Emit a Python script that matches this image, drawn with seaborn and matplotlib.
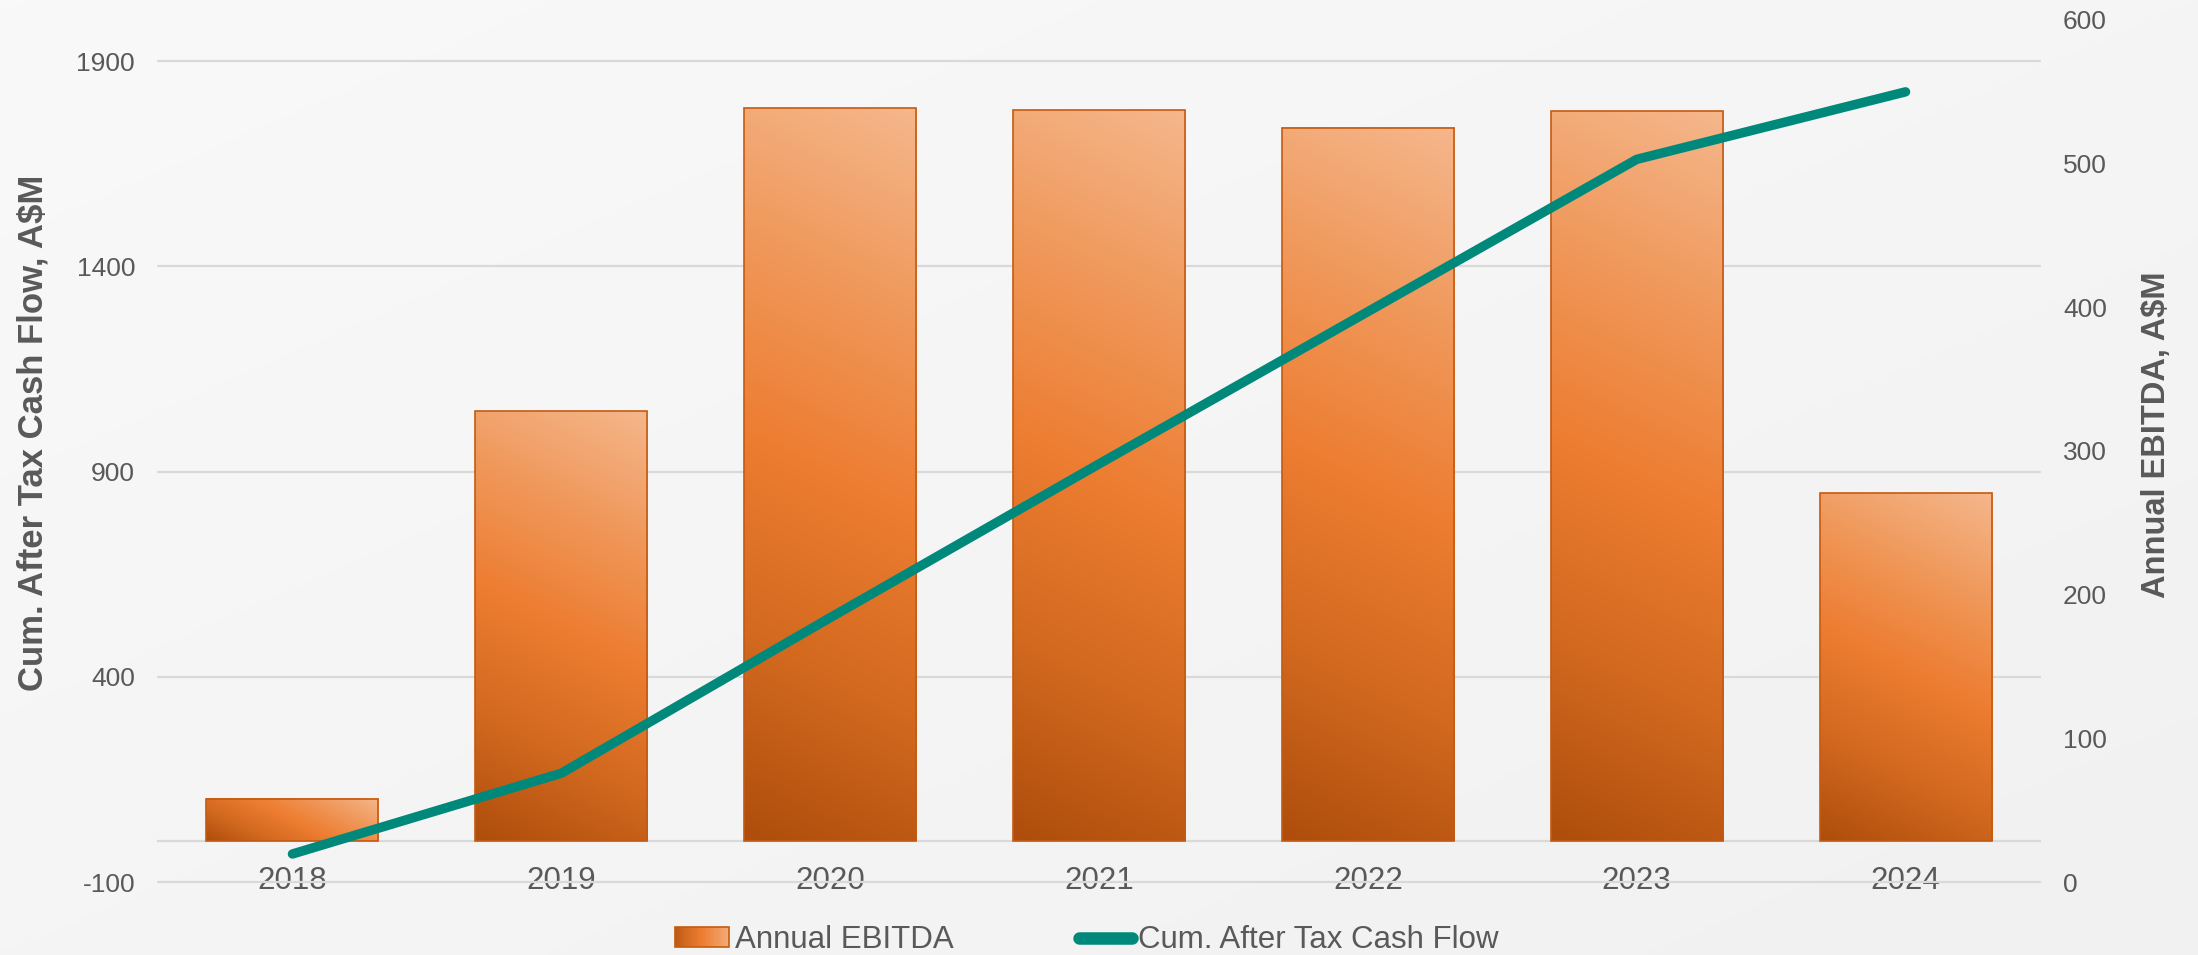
import numpy as np
import matplotlib
matplotlib.use("Agg")
import matplotlib.pyplot as plt
import seaborn as sns
from matplotlib.colors import LinearSegmentedColormap
from matplotlib.patches import Rectangle, Patch
from matplotlib.lines import Line2D
from matplotlib.legend_handler import HandlerBase

# ---------------- data ----------------
years = ["2018", "2019", "2020", "2021", "2022", "2023", "2024"]
annual_ebitda = [103, 1047, 1785, 1780, 1738, 1778, 847]          # bars (left scale)
cum_cash_flow = [19.5, 75.7, 184, 291, 397, 503, 550]             # line (right scale)
left_ticks = [-100, 400, 900, 1400, 1900]
right_ticks = [0, 100, 200, 300, 400, 500, 600]
left_title = "Cum. After Tax Cash Flow, A$M"
right_title = "Annual EBITDA, A$M"
bar_label = "Annual EBITDA"
line_label = "Cum. After Tax Cash Flow"

# ---------------- style ----------------
sns.set_style("white")
plt.rcParams["font.family"] = ["Liberation Sans", "DejaVu Sans"]
plt.rcParams["axes.unicode_minus"] = False
TXT = "#595959"
GRID = "#D9D9D9"
TEAL = "#00897B"
EDGE = "#C55A11"
cmap = LinearSegmentedColormap.from_list("bar", ["#AE4D0C", "#D2691F", "#ED7D31", "#F0995C", "#F5B78C"])

W, H, DPI = 2198, 955, 100
fig = plt.figure(figsize=(W / DPI, H / DPI), dpi=DPI)

# background gradient
bg = fig.add_axes([0, 0, 1, 1], zorder=-10)
gy, gx = np.mgrid[0:1:200j, 0:1:400j]
bg.imshow((gx + gy) / 2, cmap=LinearSegmentedColormap.from_list("bg", ["#F9F9F9", "#F1F1F1"]),
          extent=[0, 1, 0, 1], aspect="auto", origin="upper")
bg.axis("off")

ax_l, ax_r, ax_b, ax_t = 158 / W, 2040 / W, 1 - 882 / H, 1 - 20 / H
ax = fig.add_axes([ax_l, ax_b, ax_r - ax_l, ax_t - ax_b])
ax.set_facecolor("none")

sns.barplot(x=years, y=annual_ebitda, ax=ax, width=0.64, color="#ED7D31",
            saturation=1, edgecolor=EDGE, linewidth=1.2, zorder=3)
ax.set_xlim(-0.5, len(years) - 0.5)
ax.set_ylim(-100, 2000)
ax.set_yticks(left_ticks)

# gradient fill for the bars (bottom-left dark -> top-right light)
fig.canvas.draw()
for p in list(ax.patches):
    x0, y0 = p.get_x(), p.get_y()
    w, h = p.get_width(), p.get_height()
    (px0, py0) = ax.transData.transform((x0, y0))
    (px1, py1) = ax.transData.transform((x0 + w, y0 + h))
    nx, ny = max(int(abs(px1 - px0)), 2), max(int(abs(py1 - py0)), 2)
    jj, ii = np.meshgrid(np.arange(nx), np.arange(ny))
    Z = (0.5 * jj + ii) / float(0.5 * nx + ny)
    ax.imshow(Z, cmap=cmap, vmin=0, vmax=1, extent=[x0, x0 + w, y0, y0 + h],
              origin="lower", aspect="auto", interpolation="bilinear", zorder=2)
    p.set_facecolor("none")
    p.set_zorder(3)
ax.set_xlim(-0.5, len(years) - 0.5)
ax.set_ylim(-100, 2000)

# grid & spines
ax.yaxis.grid(True, color=GRID, linewidth=1.6, zorder=0)
ax.set_axisbelow(True)
for gl in ax.get_ygridlines():
    gl.set_clip_on(False)
for s in ["top", "right", "left"]:
    ax.spines[s].set_visible(False)
ax.spines["bottom"].set_position(("data", 0))
ax.spines["bottom"].set_color(GRID)
ax.spines["bottom"].set_linewidth(1.6)
ax.spines["bottom"].set_zorder(1)
ax.tick_params(axis="x", length=0, pad=18, labelsize=22.5, labelcolor=TXT)
ax.tick_params(axis="y", length=0, pad=16.5, labelsize=19, labelcolor=TXT)
ax.set_xlabel("")
ax.set_ylabel("")

# line on secondary axis
ax2 = ax.twinx()
sns.lineplot(x=years, y=cum_cash_flow, ax=ax2, color=TEAL, linewidth=6.8,
             solid_capstyle="round", solid_joinstyle="round", legend=False, sort=False)
ax2.set_ylim(0, 600)
ax2.set_yticks(right_ticks)
ax2.set_xlim(-0.5, len(years) - 0.5)
for s in ax2.spines.values():
    s.set_visible(False)
ax2.tick_params(axis="y", length=0, pad=16.5, labelsize=19, labelcolor=TXT)
ax2.set_ylabel("")
ax2.set_xlabel("")
ax2.grid(False)

# axis titles
fig.text(33 / W, 1 - 433 / H, left_title, rotation=90, ha="center", va="center",
         fontsize=25, fontweight="bold", color=TXT)
fig.text(2157 / W, 1 - 435 / H, right_title, rotation=90, ha="center", va="center",
         fontsize=23.5, fontweight="bold", color=TXT)


# legend with gradient bar handle
class GradHandler(HandlerBase):
    def create_artists(self, legend, orig_handle, xdescent, ydescent, width, height, fontsize, trans):
        arts = []
        n = 30
        for k in range(n):
            t = (k + 0.5) / n * 0.8 + 0.1
            arts.append(Rectangle((-xdescent + width * k / n, -ydescent), width / n * 1.05, height,
                                  facecolor=cmap(t), edgecolor="none", transform=trans))
        arts.append(Rectangle((-xdescent, -ydescent), width, height, facecolor="none",
                              edgecolor=EDGE, linewidth=1.2, transform=trans))
        return arts


h_bar = Patch(label=bar_label)
h_line = Line2D([], [], color=TEAL, linewidth=9, solid_capstyle="round", label=line_label)
fig.legend(handles=[h_bar, h_line], labels=[bar_label, line_label],
           handler_map={Patch: GradHandler()}, loc="center",
           bbox_to_anchor=(1087 / W, 1 - 940 / H), ncol=2, frameon=False,
           fontsize=22.5, labelcolor=TXT, handlelength=1.7, handleheight=0.58,
           handletextpad=0.2, columnspacing=4.0, borderpad=0)

fig.savefig("out.png", dpi=DPI)
